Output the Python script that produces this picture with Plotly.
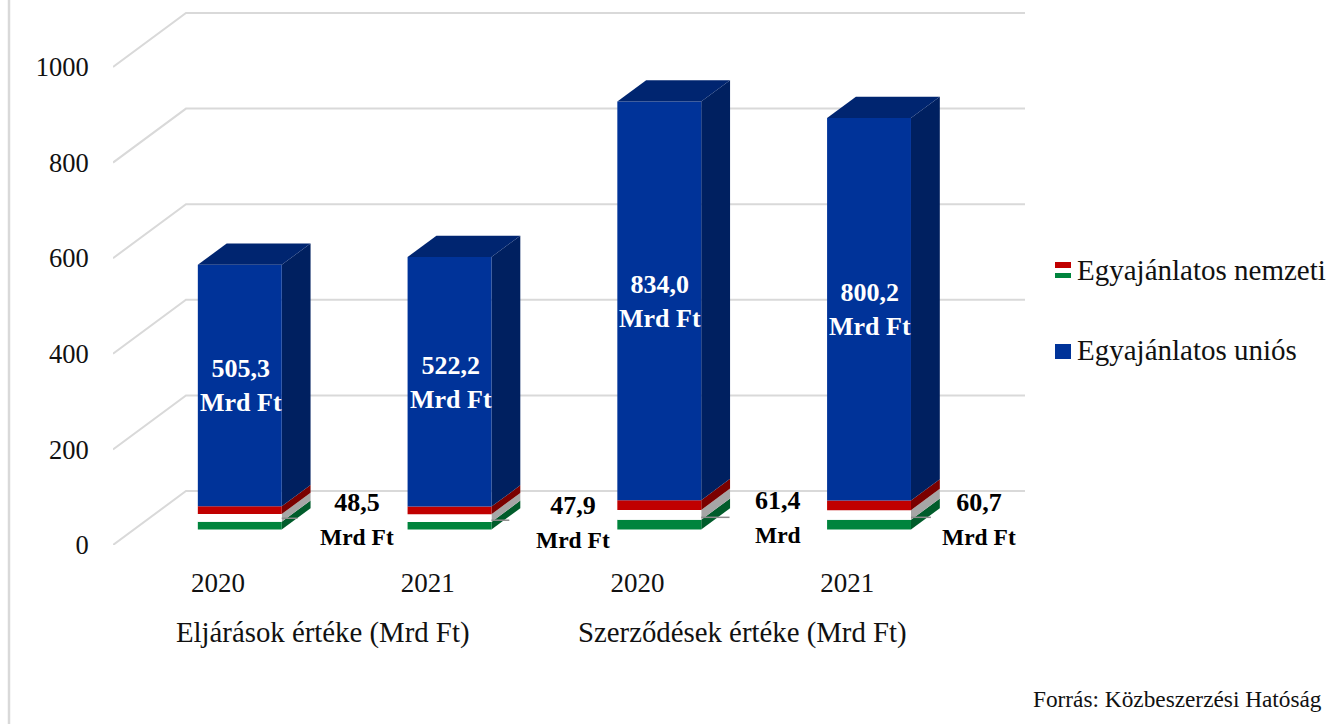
import plotly.graph_objects as go

# ---- data ----
year_labels = ["2020", "2021", "2020", "2021"]
group_labels = ["Eljárások értéke (Mrd Ft)", "Szerződések értéke (Mrd Ft)"]
group_centers = [0.5, 2.5]
national_values = [48.5, 47.9, 61.4, 60.7]
eu_values = [505.3, 522.2, 834.0, 800.2]
national_labels = ["48,5", "47,9", "61,4", "60,7"]
eu_labels = ["505,3", "522,2", "834,0", "800,2"]
national_units = ["Mrd Ft", "Mrd Ft", "Mrd", "Mrd Ft"]
y_ticks = [0, 200, 400, 600, 800, 1000]
legend_names = ["Egyajánlatos nemzeti", "Egyajánlatos uniós"]
source_text = "Forrás: Közbeszerzési Hatóság"

# ---- layout constants ----
W, H = 1344, 724
PL, PR, PB, PT = 113, 1025, 545, 0
PX_PER_CAT = 209.75
PX_PER_VAL = 0.478
X_MIN = -0.5
X_MAX = X_MIN + (PR - PL) / PX_PER_CAT
Y_MAX = (PB - PT) / PX_PER_VAL
DEPTH_DX = 73 / PX_PER_CAT      # whole floor depth, in category units
DEPTH_DY = 54 / PX_PER_VAL      # whole floor depth, in value units
BAR_W = 0.40
D0, D1 = 0.30, 0.695            # bar extent along the depth of the floor
DROP = 1.5                      # small downward nudge of the bars, value units

GRID = "#D9D9D9"
SERIF = "Liberation Serif"
INK = "#111111"
BLUE = ("#003399", "#002060", "#002570")
BANDS = [("#00843D", "#005C2B", "#00843D"),
         ("#FFFFFF", "#A6A6A6", "#FFFFFF"),
         ("#C00000", "#7A0000", "#C00000")]


def proj(x, v, d):
    return x + d * DEPTH_DX, v + d * DEPTH_DY


def px(xp):
    return (xp - PL) / (PR - PL)


def py(yp):
    return (PB - yp) / (PB - PT)


def poly(pts, color):
    xs = [p[0] for p in pts] + [pts[0][0]]
    ys = [p[1] for p in pts] + [pts[0][1]]
    return go.Scatter(x=xs, y=ys, mode="lines", fill="toself", fillcolor=color,
                      line=dict(width=0, color=color), hoverinfo="skip", showlegend=False)


fig = go.Figure()

# gridlines: along the side wall, then along the back wall
for t in y_ticks:
    a = proj(X_MIN, t, 0)
    b = proj(X_MIN, t, 1)
    c = (X_MAX, b[1])
    fig.add_trace(go.Scatter(x=[a[0], b[0], c[0]], y=[a[1], b[1], c[1]], mode="lines",
                             line=dict(color=GRID, width=2), hoverinfo="skip", showlegend=False))


def box(i, lo, hi, colors):
    xl, xr = i - BAR_W / 2, i + BAR_W / 2
    lo, hi = lo - DROP, hi - DROP
    front = [proj(xl, lo, D0), proj(xr, lo, D0), proj(xr, hi, D0), proj(xl, hi, D0)]
    side = [proj(xr, lo, D0), proj(xr, lo, D1), proj(xr, hi, D1), proj(xr, hi, D0)]
    fig.add_trace(poly(side, colors[1]))
    fig.add_trace(poly(front, colors[0]))
    return xl, xr


for i, (nat, eu) in enumerate(zip(national_values, eu_values)):
    for k, colors in enumerate(BANDS):
        box(i, nat * k / 3, nat * (k + 1) / 3, colors)
    xl, xr = box(i, nat, nat + eu, BLUE)
    hi = nat + eu - DROP
    fig.add_trace(poly([proj(xl, hi, D0), proj(xr, hi, D0), proj(xr, hi, D1), proj(xl, hi, D1)], BLUE[2]))

# leader lines from the national value labels
leader_rise = [22, 18, 24, 24]       # value units above front base
leader_len = [0.075, 0.085, 0.135, 0.095]
for i, nat in enumerate(national_values):
    xr = i + BAR_W / 2
    x0, y0 = proj(xr, leader_rise[i], D0)
    fig.add_trace(go.Scatter(x=[x0, x0 + leader_len[i]], y=[y0, y0], mode="lines",
                             line=dict(color="#8C8C8C", width=1.5), hoverinfo="skip", showlegend=False))

annotations = []

# labels inside the blue bars
for i, (nat, eu, lab) in enumerate(zip(national_values, eu_values, eu_labels)):
    cx, cy = proj(i, nat + eu / 2, D0)
    annotations.append(dict(x=cx, y=cy, xref="x", yref="y", showarrow=False, yshift=-1, xshift=1,
                            text=f"<b>{lab}<br>Mrd Ft</b>",
                            font=dict(family=SERIF, size=26, color="#FFFFFF")))

# labels next to the national segments
offset_x = [117, 123, 119, 110]
offset_y = [-1.5, -4.5, -3, -5]
for i, (nat, lab, unit) in enumerate(zip(national_values, national_labels, national_units)):
    cx, cy = proj(i, nat / 2, D0)
    annotations.append(dict(x=cx, y=cy, xref="x", yref="y", showarrow=False,
                            xshift=offset_x[i], yshift=offset_y[i],
                            text=f"<b>{lab}<br><span style='font-size:23.5px'>{unit}</span></b>",
                            font=dict(family=SERIF, size=26, color="#000000")))

# group labels under the year labels
for g, c in zip(group_labels, group_centers):
    annotations.append(dict(x=c, y=py(632), xref="x", yref="paper", yanchor="middle", showarrow=False, text=g,
                            font=dict(family=SERIF, size=28.8, color=INK)))

# legend
for name, yp in zip(legend_names, [270, 350]):
    annotations.append(dict(x=px(1077), y=py(yp), xref="paper", yref="paper", xanchor="left", yanchor="middle",
                            showarrow=False, xshift=-2, text=name,
                            font=dict(family=SERIF, size=29, color=INK)))

# source
annotations.append(dict(x=px(1324), y=py(699), xref="paper", yref="paper", xanchor="right", yanchor="middle",
                        showarrow=False, text=source_text,
                        font=dict(family=SERIF, size=23.3, color=INK)))

shapes = [dict(type="line", xref="paper", yref="paper", x0=px(9), x1=px(9), y0=py(0), y1=py(724),
               line=dict(color=GRID, width=2.5))]


def rect(x0, x1, y0, y1, color):
    return dict(type="rect", xref="paper", yref="paper", x0=px(x0), x1=px(x1), y0=py(y0), y1=py(y1),
                fillcolor=color, line=dict(width=0))


shapes += [rect(1055, 1071, 262, 268, "#C00000"),
           rect(1055, 1071, 273, 278, "#00843D"),
           rect(1055, 1071, 344, 359, "#003399")]

fig.update_layout(
    width=W, height=H, margin=dict(l=PL, r=W - PR, t=PT, b=H - PB, pad=0),
    paper_bgcolor="#FFFFFF", plot_bgcolor="rgba(0,0,0,0)", showlegend=False,
    annotations=annotations, shapes=shapes,
    xaxis=dict(range=[X_MIN, X_MAX], tickmode="array", tickvals=list(range(4)), ticktext=year_labels,
               showgrid=False, zeroline=False, showline=False, ticks="outside", ticklen=14,
               tickcolor="rgba(0,0,0,0)", tickfont=dict(family=SERIF, size=27, color=INK)),
    yaxis=dict(range=[0, Y_MAX], tickmode="array", tickvals=y_ticks, ticktext=[str(t) for t in y_ticks],
               showgrid=False, zeroline=False, showline=False, ticks="outside", ticklen=18,
               tickcolor="rgba(0,0,0,0)", tickfont=dict(family=SERIF, size=26.5, color=INK)),
)

fig.write_html("out.html", config=dict(displayModeBar=False),
               post_script="document.body.style.margin='0';document.body.style.overflow='hidden';")
